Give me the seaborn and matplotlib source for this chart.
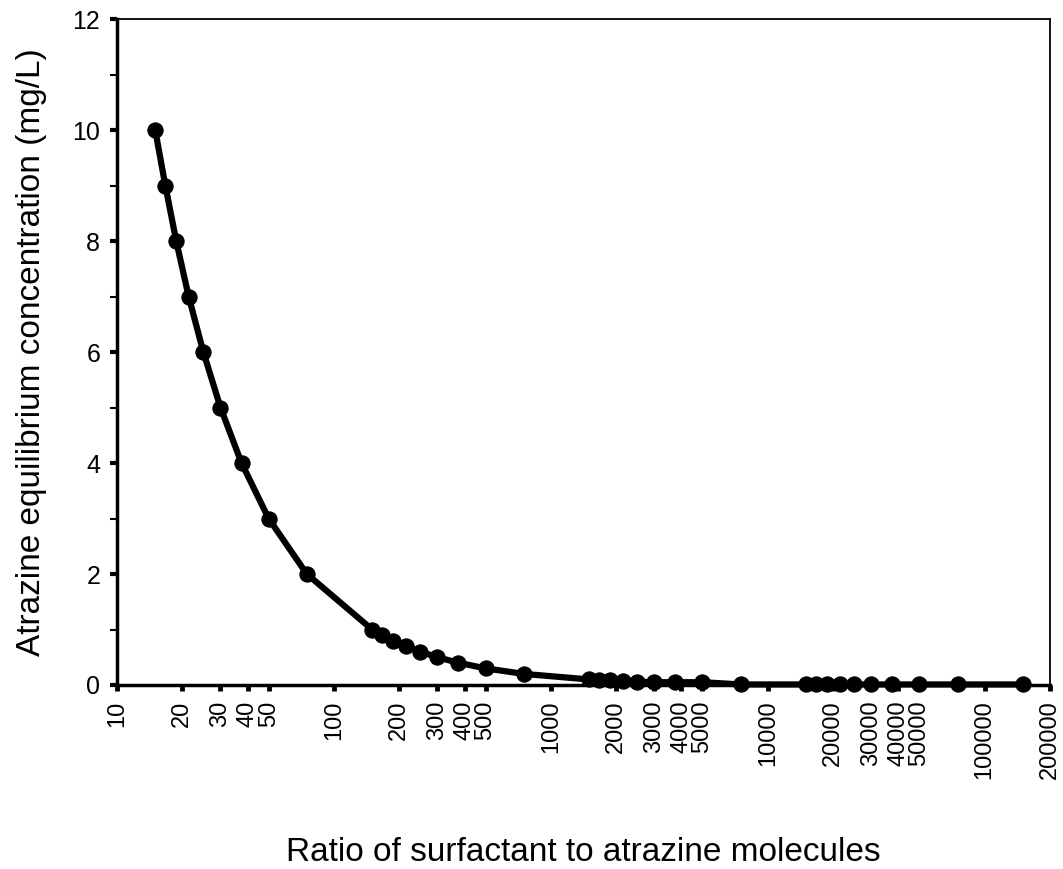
import matplotlib
matplotlib.use("Agg")
import matplotlib.pyplot as plt
import seaborn as sns
import pandas as pd
import numpy as np
from matplotlib.ticker import FixedLocator, NullFormatter

# Data
ratio = [15, 16.7, 18.75, 21.4, 25, 30, 37.5, 50, 75,
         150, 167, 188, 214, 250, 300, 375, 500, 750,
         1500, 1667, 1875, 2143, 2500, 3000, 3750, 5000, 7500,
         15000, 16667, 18750, 21429, 25000, 30000, 37500, 50000, 75000, 150000]
conc = [10, 9, 8, 7, 6, 5, 4, 3, 2,
        1.0, 0.9, 0.8, 0.7, 0.6, 0.5, 0.4, 0.3, 0.2,
        0.10, 0.09, 0.09, 0.08, 0.06, 0.05, 0.05, 0.05, 0.01,
        0.01, 0.01, 0.01, 0.01, 0.01, 0.01, 0.01, 0.01, 0.01, 0.01]

xtick_vals = [10, 20, 30, 40, 50, 100, 200, 300, 400, 500, 1000, 2000, 3000, 4000, 5000,
              10000, 20000, 30000, 40000, 50000, 100000, 200000]
xtick_labels = [str(v) for v in xtick_vals]
ytick_major = [0, 2, 4, 6, 8, 10, 12]
ytick_minor = [1, 3, 5, 7, 9, 11]

xlabel = "Ratio of surfactant to atrazine molecules"
ylabel = "Atrazine equilibrium concentration (mg/L)"

df = pd.DataFrame({"ratio": ratio, "conc": conc})

sns.set_style("ticks")
plt.rcParams['font.family'] = ['Liberation Sans', 'DejaVu Sans']
plt.rcParams['text.color'] = 'black'
plt.rcParams['axes.labelcolor'] = 'black'
plt.rcParams['xtick.color'] = 'black'
plt.rcParams['ytick.color'] = 'black'

fig = plt.figure(figsize=(10.63, 8.69), dpi=100)
ax = fig.add_axes([117/1063, 1 - 685/869, (1050-117)/1063, (685-19)/869])

sns.lineplot(data=df, x="ratio", y="conc", ax=ax, color="black", linewidth=4.5,
             marker="o", markersize=11, markeredgecolor="black", markerfacecolor="black",
             clip_on=False, zorder=5)

ax.set_xscale("log")
ax.set_xlim(10, 200000)
ax.set_ylim(0, 12)

ax.xaxis.set_major_locator(FixedLocator(xtick_vals))
ax.set_xticklabels(xtick_labels, rotation=90, fontsize=17)
ax.xaxis.set_minor_locator(FixedLocator([]))
ax.xaxis.set_minor_formatter(NullFormatter())

ax.yaxis.set_major_locator(FixedLocator(ytick_major))
ax.yaxis.set_minor_locator(FixedLocator(ytick_minor))
ax.set_yticklabels([str(v) for v in ytick_major], fontsize=18)

ax.tick_params(axis="x", which="major", direction="out", length=4, width=3.5, pad=7, colors="black")
ax.tick_params(axis="y", which="major", direction="out", length=5, width=3, pad=7, colors="black")
ax.tick_params(axis="y", which="minor", direction="out", length=5, width=1.5, colors="black")

for side in ["left", "bottom"]:
    ax.spines[side].set_linewidth(2.5)
    ax.spines[side].set_color("black")
for side in ["top", "right"]:
    ax.spines[side].set_visible(True)
    ax.spines[side].set_linewidth(1.3)
    ax.spines[side].set_color("black")

ax.set_xlabel(xlabel, fontsize=24, labelpad=42, color="black")
ax.set_ylabel(ylabel, fontsize=24, labelpad=18, color="black")

fig.savefig("out.png", dpi=100)
